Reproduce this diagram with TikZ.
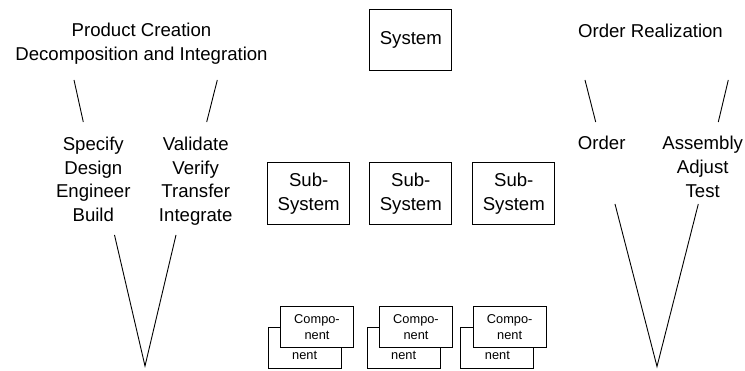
\documentclass[tikz,border=0pt]{standalone}
\usepackage{fontspec}
\setmainfont{Liberation Sans}
\usepackage{tikz}

\tikzset{
	lbl/.style={align=center, inner sep=0pt, font=\fontsize{18.6}{23.7}\selectfont},
	sysbox/.style={draw, line width=0.9pt, minimum width=82pt, minimum height=61.5pt, inner sep=0pt, align=center, font=\fontsize{18.6}{23.2}\selectfont},
	compbox/.style={draw, fill=white, line width=0.9pt, minimum width=73pt, minimum height=41.5pt, inner sep=0pt, align=center, font=\fontsize{12.8}{15.5}\selectfont}
}

\begin{document}
\begin{tikzpicture}[x=1pt, y=-1pt, line width=0.9pt]
			\useasboundingbox (0,0) rectangle (745,371);
			
			% left side: product creation
			\node[lbl, anchor=north] (pc) at (141.5,22.5){Product Creation\\Decomposition and Integration};
			\node[lbl, anchor=north] (spec) at (93.3,136.5){Specify\\Design\\Engineer\\Build};
			\node[lbl, anchor=north] (vali) at (195.7,136.5){Validate\\Verify\\Transfer\\Integrate};
			
			\coordinate (pcl) at (74,80);
			\coordinate (pcr) at (217.3,80);
			\coordinate (specT) at (83.3,122);
			\coordinate (valiT) at (206.7,122);
			\draw (pcl) -- (specT);
			\draw (pcr) -- (valiT);
			
			\coordinate (lvl) at (114.5,235);
			\coordinate (lvr) at (176,235);
			\coordinate (lvtip) at (145,366);
			\draw (lvl) -- (lvtip) -- (lvr);
			
			% middle: system breakdown
			\node[sysbox] (sys) at (410.8,40.2){System};
			\foreach \x/\n in {308.7/1, 410.8/2, 513.8/3}
				\node[sysbox] (sub\n) at (\x,193.6){Sub-\\System};
			
			\foreach \x/\n in {317/1, 416/2, 509.7/3}{
				\node[compbox] (cback\n) at (\x-12.3,347.8){Compo-\\nent};
				\node[compbox] (cfront\n) at (\x,327.2){Compo-\\nent};
			}
			
			% right side: order realization
			\node[lbl, anchor=north] (orr) at (650.5,23.5){Order Realization};
			\node[lbl, anchor=north] (ord) at (601.7,136){Order};
			\node[lbl, anchor=north] (asm) at (702.7,136){Assembly\\Adjust\\Test};
			
			\coordinate (orl) at (585,80);
			\coordinate (orrr) at (728.3,80);
			\coordinate (ordT) at (595.7,122);
			\coordinate (asmT) at (718.3,122);
			\draw (orl) -- (ordT);
			\draw (orrr) -- (asmT);
			
			\coordinate (rvl) at (615,204);
			\coordinate (rvr) at (698.3,204);
			\coordinate (rvtip) at (657,366.5);
			\draw (rvl) -- (rvtip) -- (rvr);
			
\end{tikzpicture}
\end{document}
